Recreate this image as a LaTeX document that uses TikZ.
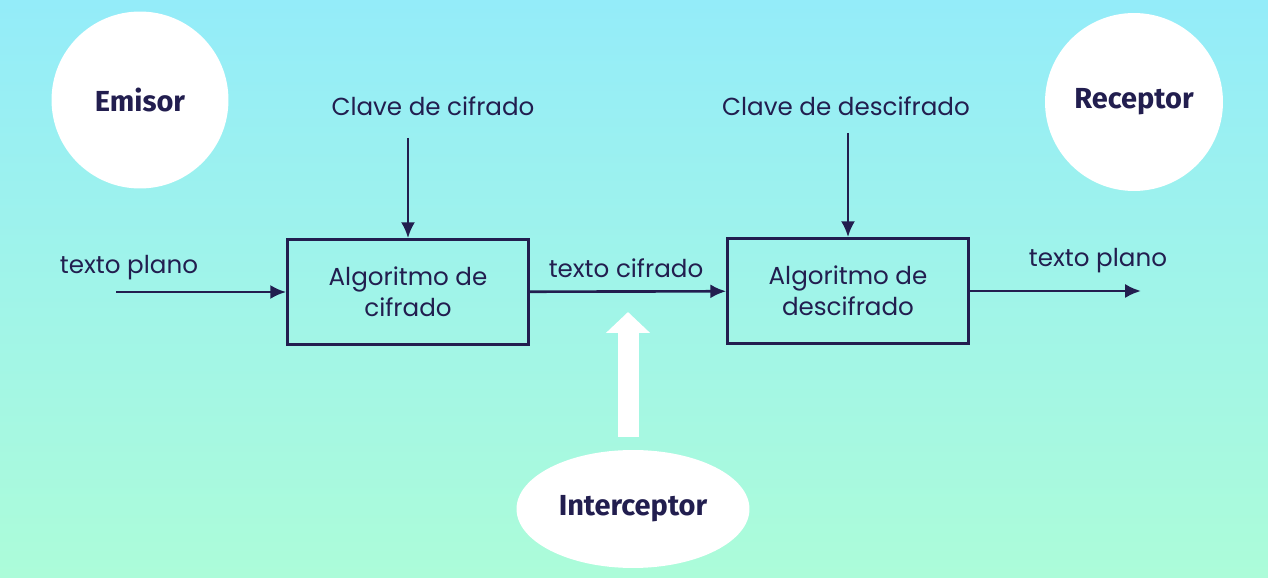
\documentclass[tikz,border=0pt]{standalone}
\usepackage{fontspec}
\setmainfont{Poppins}
\newfontfamily\actorfont{Fira Sans}
\usetikzlibrary{shapes.geometric,arrows.meta,positioning}
\definecolor{ink}{HTML}{221E4F}
\definecolor{skytop}{HTML}{94ECF9}
\definecolor{mintbot}{HTML}{ACFCD9}

\begin{document}
\begin{tikzpicture}[x=0.02cm,y=0.02cm,
    actor/.style={fill=white,text=ink,inner sep=0pt,font=\actorfont\bfseries\fontsize{16.5}{19}\selectfont},
    algo/.style={draw=ink,line width=1.6pt,minimum width=4.82cm,minimum height=2.1cm,align=center,text=ink,font=\fontsize{14}{17.6}\selectfont},
    lbl/.style={text=ink,font=\fontsize{14}{17}\selectfont},
    flow/.style={draw=ink,line width=1.5pt,-{Latex[length=9pt,width=8pt]}}]
  \fill[top color=skytop,bottom color=mintbot] (0,0) rectangle (1268,578);
  \node[actor,circle,minimum size=3.54cm] (emisor) at (140,478) {Emisor};
  \node[actor,circle,minimum size=3.56cm] (receptor) at (1134,476) {Receptor};
  \node[actor,ellipse,minimum width=4.66cm,minimum height=2.36cm] (inter) at (633,69) {Interceptor};
  \node[algo] (cifra) at (408,286) {Algoritmo de\\cifrado};
  \node[algo] (descifra) at (848,287) {Algoritmo de\\descifrado};
  \node[lbl] (clave1) at (433,472) {Clave de cifrado};
  \node[lbl] (clave2) at (846,472) {Clave de descifrado};
  \node[lbl] (plano1) at (129,310) {texto plano};
  \node[lbl] (cifr) at (626,310) {texto cifrado};
  \node[lbl] (plano2) at (1098,317) {texto plano};
  \coordinate (in) at (116,286);
  \coordinate (out) at (1141,287);
  \coordinate (tap) at (628,266);
  \draw[flow] (in) -- (cifra);
  \draw[flow] (cifra) -- (descifra);
  \draw[flow] (descifra.east) -- (out);
  \draw[flow] (cifra |- 0,440) -- (cifra);
  \draw[flow] (descifra |- 0,445) -- (descifra);
  \draw[white,line width=0.42cm,-{Triangle[length=0.42cm,width=0.86cm]}] ([yshift=0.26cm]inter.north -| tap) -- (tap);
\end{tikzpicture}
\end{document}
